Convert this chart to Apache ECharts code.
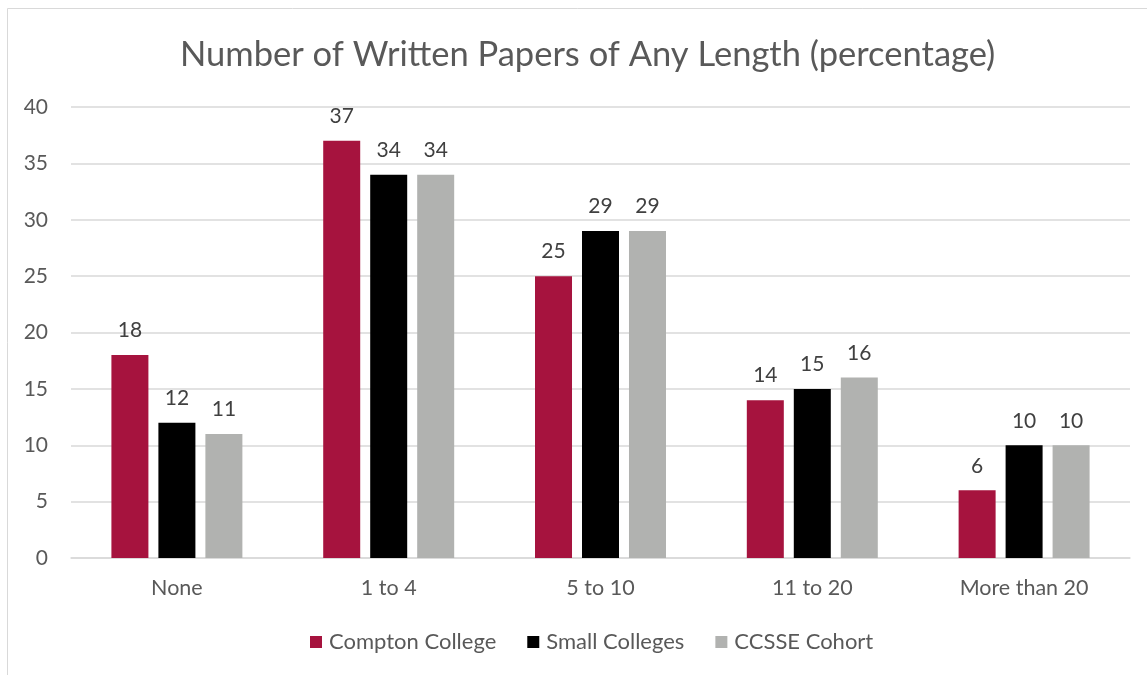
<!DOCTYPE html>
<html>
<head>
<meta charset="utf-8">
<script src="https://cdn.jsdelivr.net/npm/echarts@6/dist/echarts.min.js"></script>
<style>
  html, body { margin: 0; padding: 0; background: #fff; }
  #chart { width: 1147px; height: 675px; }
</style>
</head>
<body>
<div id="chart"></div>
<script>
const categories = ['None', '1 to 4', '5 to 10', '11 to 20', 'More than 20'];
const comptonCollege = [18, 37, 25, 14, 6];
const smallColleges = [12, 34, 29, 15, 10];
const ccsseCohort = [11, 34, 29, 16, 10];
const yTicks = { min: 0, max: 40, interval: 5 };

const FONT = 'Lato, "Open Sans", sans-serif';
const TEXT = '#595959';

const chart = echarts.init(document.getElementById('chart'), null, { renderer: 'canvas' });

function barSeries(name, data, color) {
  return {
    name: name,
    type: 'bar',
    data: data,
    barWidth: 37,
    barGap: '27%',
    itemStyle: { color: color },
    label: {
      show: true,
      position: 'top',
      distance: 14,
      color: '#404040',
      fontFamily: FONT,
      fontSize: 21
    }
  };
}

chart.setOption({
  animation: false,
  backgroundColor: '#fff',
  title: {
    text: 'Number of Written Papers of Any Length (percentage)',
    left: 175,
    top: 32,
    textStyle: { color: TEXT, fontFamily: FONT, fontSize: 34.5, fontWeight: 'normal' }
  },
  graphic: [{
    type: 'rect',
    shape: { x: 7.5, y: 8.5, width: 1200, height: 800 },
    style: { fill: 'none', stroke: '#D9D9D9', lineWidth: 1 },
    silent: true
  }],
  legend: {
    top: 626,
    left: 305,
    itemWidth: 12,
    itemHeight: 12,
    itemGap: 31,
    icon: 'rect',
    textStyle: { color: TEXT, fontFamily: FONT, fontSize: 22, padding: [0, 0, 0, 2] }
  },
  grid: { left: 71, right: 17, top: 107, bottom: 117, containLabel: false },
  xAxis: {
    type: 'category',
    data: categories,
    axisLine: { lineStyle: { color: '#D9D9D9', width: 1.5 } },
    axisTick: { show: false },
    axisLabel: { color: TEXT, fontFamily: FONT, fontSize: 21.5, margin: 19 }
  },
  yAxis: {
    type: 'value',
    min: yTicks.min,
    max: yTicks.max,
    interval: yTicks.interval,
    axisLine: { show: false },
    axisTick: { show: false },
    splitLine: { lineStyle: { color: '#D9D9D9', width: 1.5 } },
    axisLabel: { color: TEXT, fontFamily: FONT, fontSize: 21, margin: 23 }
  },
  series: [
    barSeries('Compton College', comptonCollege, '#A6133E'),
    barSeries('Small Colleges', smallColleges, '#000000'),
    barSeries('CCSSE Cohort', ccsseCohort, '#B1B2B0')
  ]
});
</script>
</body>
</html>
